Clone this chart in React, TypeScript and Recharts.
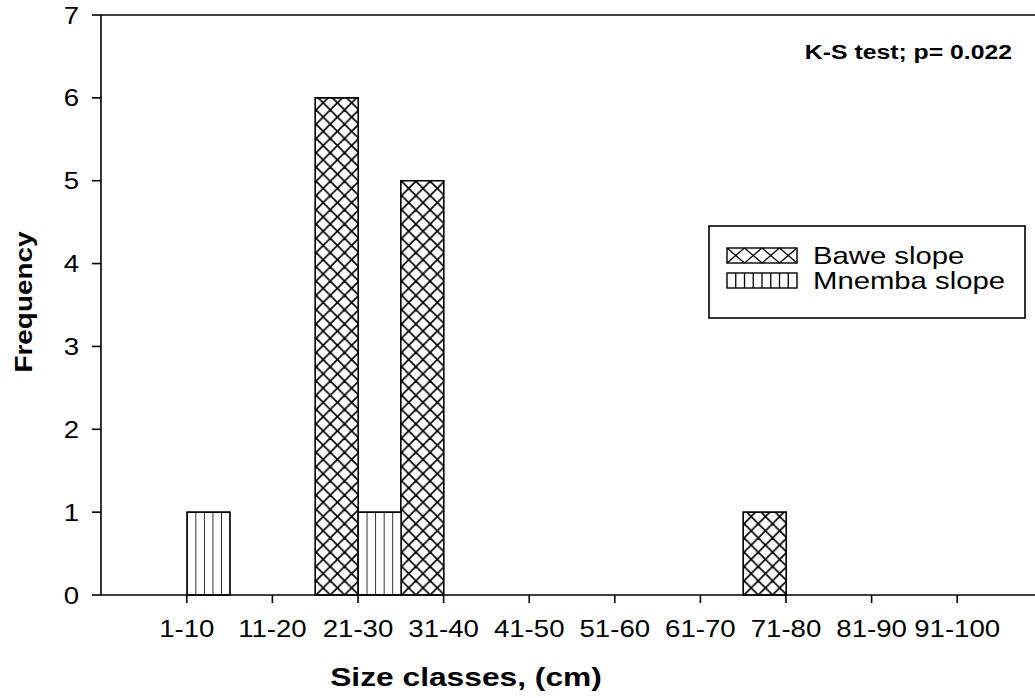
import React from 'react';
import { BarChart, Bar, XAxis, YAxis, ReferenceLine, Customized } from 'recharts';

// Size classes and frequency counts for each site
const sizeClasses = ['1-10', '11-20', '21-30', '31-40', '41-50', '51-60', '61-70', '71-80', '81-90', '91-100'];
const baweSlope = [0, 0, 6, 5, 0, 0, 0, 1, 0, 0];
const mnembaSlope = [1, 0, 1, 0, 0, 0, 0, 0, 0, 0];
const yTicks = [0, 1, 2, 3, 4, 5, 6, 7];
const seriesNames = ['Bawe slope', 'Mnemba slope'];
const testNote = 'K-S test; p= 0.022';

const data = sizeClasses.map((c, i) => ({ cls: c, bawe: baweSlope[i], mnemba: mnembaSlope[i] }));

const FONT = '"Liberation Sans", Arial, Helvetica, sans-serif';

const Stretched = ({ x, y, size, bold, anchor, rotate, sx = 1.2, children }: any) => (
  <g transform={`translate(${x},${y})${rotate ? ` rotate(${rotate})` : ''} scale(${sx},1)`}>
    <text x={0} y={0} fontFamily={FONT} fontSize={size} fontWeight={bold ? 'bold' : 'normal'} textAnchor={anchor || 'start'} fill="#000">
      {children}
    </text>
  </g>
);

const YTick = (props: any) => {
  const { x, y, payload } = props;
  return (
    <Stretched x={x} y={y + 8.5} size={24} anchor="end" sx={1.15}>
      {payload.value}
    </Stretched>
  );
};

const XTick = (props: any) => {
  const { x, y, payload } = props;
  return (
    <Stretched x={x} y={y + 32} size={24} anchor="middle" sx={1.15}>
      {payload.value}
    </Stretched>
  );
};

const Annotations = () => {
  const sw = { x: 727, w: 70, h: 15 };
  const cross: React.ReactNode[] = [];
  const n = 4;
  const cw = sw.w / n;
  for (let i = 0; i < n; i++) {
    const x0 = sw.x + i * cw;
    cross.push(<line key={`a${i}`} x1={x0} y1={248} x2={x0 + cw} y2={248 + sw.h} stroke="#000" strokeWidth={1.3} />);
    cross.push(<line key={`b${i}`} x1={x0 + cw} y1={248} x2={x0} y2={248 + sw.h} stroke="#000" strokeWidth={1.3} />);
  }
  const vert: React.ReactNode[] = [];
  const m = 8;
  for (let i = 1; i < m; i++) {
    const x0 = sw.x + (i * sw.w) / m;
    vert.push(<line key={`v${i}`} x1={x0} y1={273} x2={x0} y2={273 + sw.h} stroke="#000" strokeWidth={1.3} />);
  }
  return (
    <g>
      <Stretched x={1012} y={59} size={21} bold anchor="end" sx={1.18}>{testNote}</Stretched>
      <Stretched x={32} y={302} size={24.5} bold anchor="middle" rotate={-90} sx={1.14}>Frequency</Stretched>
      <Stretched x={466} y={686} size={25} bold anchor="middle" sx={1.27}>Size classes, (cm)</Stretched>
      <rect x={709} y={226} width={316} height={92} fill="#fff" stroke="#000" strokeWidth={1.6} />
      <rect x={sw.x} y={248} width={sw.w} height={sw.h} fill="#fff" stroke="#000" strokeWidth={1.4} />
      {cross}
      <rect x={sw.x} y={273} width={sw.w} height={sw.h} fill="#fff" stroke="#000" strokeWidth={1.4} />
      {vert}
      <Stretched x={813} y={264} size={24} sx={1.22}>{seriesNames[0]}</Stretched>
      <Stretched x={813} y={289} size={24} sx={1.22}>{seriesNames[1]}</Stretched>
    </g>
  );
};

export default function App() {
  return (
    <div style={{ position: 'absolute', left: 0, top: 0, background: '#fff' }}>
      <BarChart
        width={1035}
        height={698}
        data={data}
        margin={{ top: 15, right: 0, bottom: 0, left: 0 }}
        barCategoryGap={0}
        barGap={0}
      >
        <defs>
          <pattern id="xhatch" patternUnits="userSpaceOnUse" x={144.8} y={595} width={14.267} height={14.267}>
            <rect x={0} y={0} width={14.267} height={14.267} fill="#fff" />
            <line x1={0} y1={0} x2={14.267} y2={14.267} stroke="#000" strokeWidth={1.7} />
            <line x1={14.267} y1={0} x2={0} y2={14.267} stroke="#000" strokeWidth={1.7} />
          </pattern>
          <pattern id="vlines" patternUnits="userSpaceOnUse" x={186.8} y={0} width={8.56} height={20}>
            <rect x={0} y={0} width={8.56} height={20} fill="#fff" />
            <line x1={0} y1={0} x2={0} y2={20} stroke="#000" strokeWidth={1.6} />
          </pattern>
        </defs>
        <XAxis
          dataKey="cls"
          height={103}
          padding={{ left: 43, right: 35 }}
          axisLine={{ stroke: '#000', strokeWidth: 1.6 }}
          tickLine={{ stroke: '#000', strokeWidth: 1.6 }}
          tickSize={8}
          tickMargin={2}
          interval={0}
          tick={<XTick />}
        />
        <YAxis
          width={101}
          domain={[0, 7]}
          ticks={yTicks}
          allowDecimals={false}
          axisLine={{ stroke: '#000', strokeWidth: 1.6 }}
          tickLine={{ stroke: '#000', strokeWidth: 1.6 }}
          tickSize={9}
          tickMargin={13}
          tick={<YTick />}
        />
        <ReferenceLine y={7} stroke="#000" strokeWidth={1.6} />
        <Bar dataKey="bawe" name={seriesNames[0]} fill="url(#xhatch)" stroke="#000" strokeWidth={1.6} isAnimationActive={false} />
        <Bar dataKey="mnemba" name={seriesNames[1]} fill="url(#vlines)" stroke="#000" strokeWidth={1.6} isAnimationActive={false} />
        <Customized component={<Annotations />} />
      </BarChart>
    </div>
  );
}
